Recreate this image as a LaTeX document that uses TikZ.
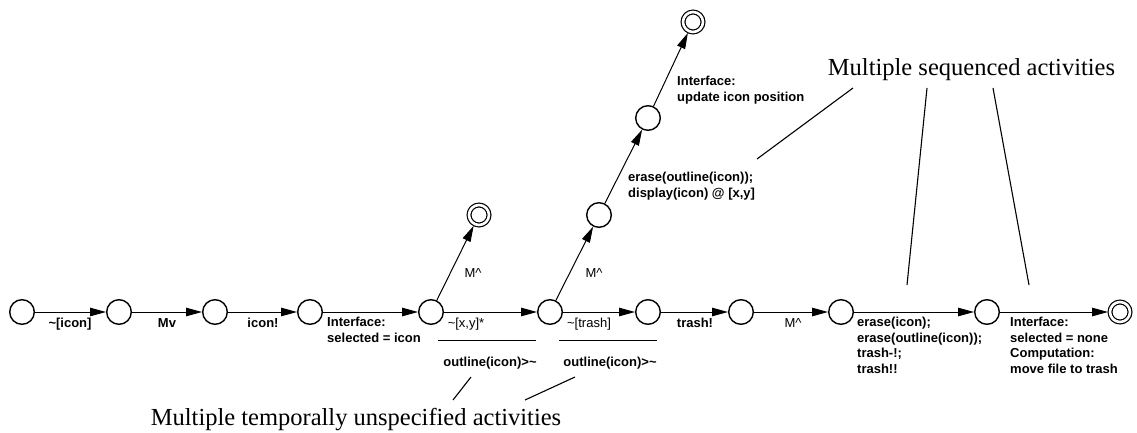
\documentclass[tikz,border=0pt]{standalone}
\usepackage{fontspec}
\setmainfont{Liberation Serif}
\newfontfamily\labelfont{Liberation Sans}
\usetikzlibrary{arrows.meta}

\tikzset{
  stnode/.style={circle,draw,line width=1.4pt,minimum size=24.6pt,inner sep=0pt},
  endnode/.style={circle,draw,line width=1.2pt,double,double distance=2.6pt,
    minimum size=20pt,inner sep=0pt,outer sep=2pt},
  trans/.style={-{Triangle[length=16pt,width=8.5pt]},line width=1pt},
  lbl/.style={font=\labelfont\bfseries\fontsize{13}{15.5}\selectfont,inner sep=0pt},
  lbllight/.style={font=\labelfont\fontsize{13}{15.5}\selectfont,inner sep=0pt},
  note/.style={font=\fontsize{24.5}{28}\selectfont,inner sep=0pt},
  pointer/.style={line width=1.1pt},
}

\begin{document}
\begin{tikzpicture}[x=1pt,y=1pt]
  \useasboundingbox (0,0) rectangle (1137,432);
  % main sequence of states
  \node[stnode] (s1) at (22,120) {};
  \node[stnode] (s2) at (119,120) {};
  \node[stnode] (s3) at (215,120) {};
  \node[stnode] (s4) at (310,120) {};
  \node[stnode] (s5) at (431,120) {};
  \node[stnode] (s6) at (550,120) {};
  \node[stnode] (s7) at (648,120) {};
  \node[stnode] (s8) at (741,120) {};
  \node[stnode] (s9) at (841,120) {};
  \node[stnode] (s10) at (987,120) {};
  \node[endnode] (s11) at (1120,120) {};
  % side branches
  \node[endnode] (b1) at (479,217) {};
  \node[stnode] (u1) at (599,217) {};
  \node[stnode] (u2) at (648,314) {};
  \node[endnode] (u3) at (693,410) {};

  \draw[trans] (s1) -- (s2);
  \draw[trans] (s2) -- (s3);
  \draw[trans] (s3) -- (s4);
  \draw[trans] (s4) -- (s5);
  \draw[trans] (s5) -- (s6);
  \draw[trans] (s6) -- (s7);
  \draw[trans] (s7) -- (s8);
  \draw[trans] (s8) -- (s9);
  \draw[trans] (s9) -- (s10);
  \draw[trans] (s10) -- (s11);
  \draw[trans] (s5) -- (b1);
  \draw[trans] (s6) -- (u1);
  \draw[trans] (u1) -- (u2);
  \draw[trans] (u2) -- (u3);

  % transition labels
  \node[lbl,anchor=base] (t1) at (70,104.5) {\textasciitilde[icon]};
  \node[lbl,anchor=base] (t2) at (167,104.5) {Mv};
  \node[lbl,anchor=base] (t3) at (263,104.5) {icon!};
  \node[lbl,anchor=north west,align=left] (t4) at (327,115)
    {Interface:\\selected = icon};
  \node[lbllight,anchor=base] (t5) at (466,104.5) {\textasciitilde[x,y]*};
  \node[lbllight,anchor=base] (t6) at (589,104.5) {\textasciitilde[trash]};
  \node[lbl,anchor=base] (t7) at (695,104.5) {trash!};
  \node[lbllight,anchor=base] (t8) at (793,104.5) {M\textasciicircum};
  \node[lbl,anchor=north west,align=left] (t9) at (857,115)
    {erase(icon);\\erase(outline(icon));\\trash-!;\\trash!!};
  \node[lbl,anchor=north west,align=left] (t10) at (1010,115)
    {Interface:\\selected = none\\Computation:\\move file to trash};
  \node[lbllight,anchor=base] (t11) at (473,154.5) {M\textasciicircum};
  \node[lbllight,anchor=base] (t12) at (594,154.5) {M\textasciicircum};
  \node[lbl,anchor=north west,align=left] (t13) at (628,260)
    {erase(outline(icon));\\display(icon) @ [x,y]};
  \node[lbl,anchor=north west,align=left] (t14) at (677,356)
    {Interface:\\update icon position};

  % concurrent activities
  \node[lbl,anchor=base] (o1) at (490,65.5) {outline(icon)>\textasciitilde};
  \node[lbl,anchor=base] (o2) at (610,65.5) {outline(icon)>\textasciitilde};
  \coordinate (o1l) at (438,92);
  \coordinate (o1r) at (536,92);
  \coordinate (o2l) at (559,92);
  \coordinate (o2r) at (657,92);
  \draw[line width=1pt] (o1l) -- (o1r);
  \draw[line width=1pt] (o2l) -- (o2r);

  % annotations
  \node[note,anchor=base] (unsp) at (356,7) {Multiple temporally unspecified activities};
  \node[note,anchor=base] (seq) at (971.5,356) {Multiple sequenced activities};
  \coordinate (pa1) at (471,55);
  \coordinate (pa2) at (453,32);
  \coordinate (pb1) at (575,55);
  \coordinate (pb2) at (525,32);
  \coordinate (qa1) at (853,344);
  \coordinate (qa2) at (757,273);
  \coordinate (qb1) at (927,344);
  \coordinate (qb2) at (907,147);
  \coordinate (qc1) at (993,344);
  \coordinate (qc2) at (1029,147);
  \draw[pointer] (pa1) -- (pa2);
  \draw[pointer] (pb1) -- (pb2);
  \draw[pointer] (qa1) -- (qa2);
  \draw[pointer] (qb1) -- (qb2);
  \draw[pointer] (qc1) -- (qc2);
\end{tikzpicture}
\end{document}
